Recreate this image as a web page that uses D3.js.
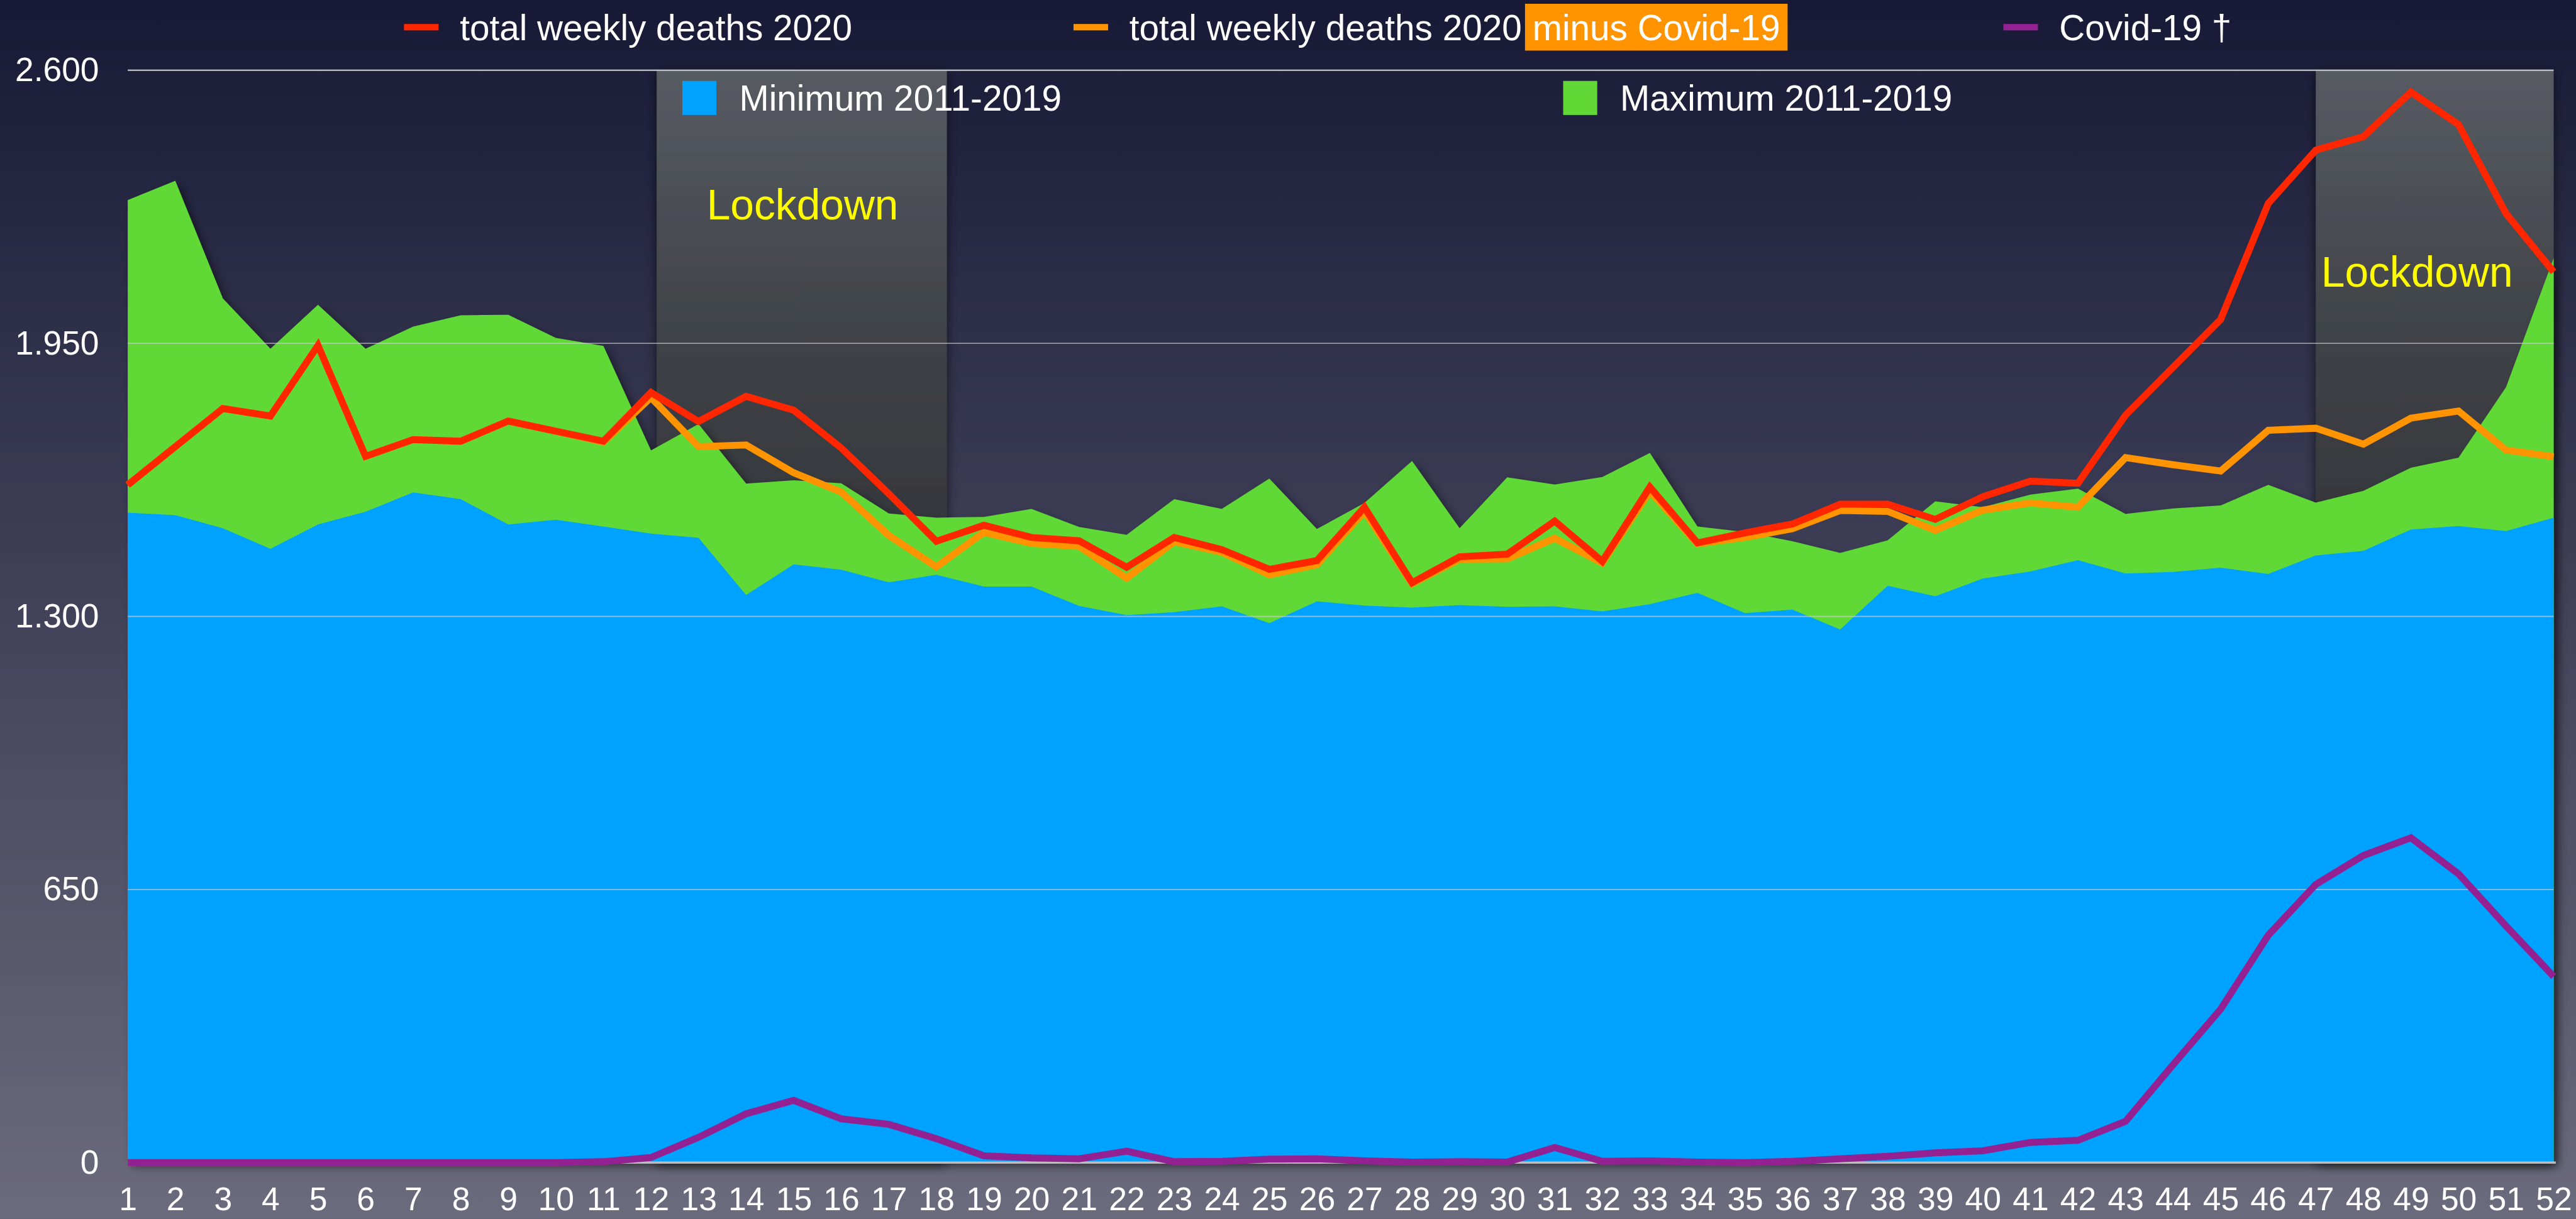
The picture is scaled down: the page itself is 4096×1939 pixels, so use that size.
<!DOCTYPE html>
<html>
<head>
<meta charset="utf-8">
<script src="https://cdn.jsdelivr.net/npm/d3@7"></script>
<style>
  html, body { margin: 0; padding: 0; background: #1a1b3a; overflow: hidden; }
  svg { display: block; }
  text { font-family: "Liberation Sans", Arial, Helvetica, sans-serif; }
</style>
</head>
<body>
<svg id="chart"></svg>
<script>
// weekly deaths
var weeks = [1,2,3,4,5,6,7,8,9,10,11,12,13,14,15,16,17,18,19,20,21,22,23,24,25,26,
             27,28,29,30,31,32,33,34,35,36,37,38,39,40,41,42,43,44,45,46,47,48,49,50,51,52];
var total2020 = [1613,1704,1795,1777,1945,1681,1721,1717,1765,1741,1717,1833,1764,1824,1791,1701,
                 1592,1479,1517,1488,1480,1417,1488,1459,1412,1433,1560,1380,1442,1448,1527,1431,
                 1608,1475,1499,1520,1567,1567,1531,1585,1622,1617,1779,1893,2007,2283,2410,2442,
                 2548,2471,2259,2120];
var minusCovid = [1613,1704,1795,1777,1945,1681,1721,1717,1765,1741,1715,1821,1704,1708,1642,1596,
                  1493,1418,1500,1474,1467,1391,1478,1453,1399,1423,1550,1378,1436,1437,1486,1427,
                  1598,1473,1488,1509,1552,1550,1505,1553,1570,1560,1678,1661,1646,1743,1748,1710,
                  1772,1789,1696,1680];
var covid = [0,0,0,0,0,0,0,0,0,0,2,12,60,116,148,104,91,57,16,11,9,27,2,3,8,9,4,1,2,1,36,3,
             4,1,0,3,9,15,23,28,48,53,98,233,365,541,662,731,773,687,563,443];
var min2011 = [1547,1541,1510,1461,1519,1549,1595,1579,1519,1530,1514,1497,1487,1351,1424,1411,
               1381,1399,1371,1371,1325,1303,1310,1324,1284,1336,1326,1321,1327,1323,1324,1312,
               1329,1356,1308,1316,1269,1373,1348,1390,1407,1434,1402,1406,1416,1401,1445,1456,
               1507,1515,1503,1535];
var max2011 = [2291,2337,2057,1937,2042,1937,1990,2017,2018,1963,1944,1695,1758,1616,1624,1617,
               1545,1535,1537,1556,1513,1494,1579,1556,1628,1508,1570,1670,1510,1631,1614,1632,
               1689,1514,1501,1479,1451,1481,1574,1560,1590,1604,1544,1557,1564,1613,1571,1599,
               1654,1678,1846,2153];
var yTicks = [0, 650, 1300, 1950, 2600];
var lockdowns = [[12.12, 18.22], [47, 52]];
var lockdownText = "Lockdown";

var W = 4840, H = 2291;
var x = d3.scaleLinear().domain([1, 52]).range([240, 4798]);
var y = d3.scaleLinear().domain([0, 2600]).range([2185, 132]);
var de = d3.formatLocale({decimal: ",", thousands: ".", grouping: [3], currency: ["", "€"]});

var svg = d3.select('#chart')
    .attr('width', 4096)
    .attr('height', 1939)
    .attr('viewBox', '0 0 ' + W + ' ' + H);
var defs = svg.append('defs');

var bg = defs.append('linearGradient').attr('id', 'bg')
    .attr('x1', 0).attr('y1', 0).attr('x2', 0).attr('y2', 1);
bg.append('stop').attr('offset', '0%').attr('stop-color', '#181936');
bg.append('stop').attr('offset', '100%').attr('stop-color', '#6b6b7d');

var lg = defs.append('linearGradient').attr('id', 'lock')
    .attr('x1', 0).attr('y1', 0).attr('x2', 0).attr('y2', 1);
lg.append('stop').attr('offset', '0%').attr('stop-color', '#575b62');
lg.append('stop').attr('offset', '25%').attr('stop-color', '#3f4247');
lg.append('stop').attr('offset', '40%').attr('stop-color', '#36383d');
lg.append('stop').attr('offset', '100%').attr('stop-color', '#2b2c30');

var sh = defs.append('filter').attr('id', 'shadow')
    .attr('x', '-5%').attr('y', '-5%').attr('width', '110%').attr('height', '110%');
sh.append('feDropShadow').attr('dx', 8).attr('dy', 8).attr('stdDeviation', 8)
    .attr('flood-color', '#000').attr('flood-opacity', 0.45);
var sh2 = defs.append('filter').attr('id', 'boxshadow')
    .attr('x', '-20%').attr('y', '-5%').attr('width', '140%').attr('height', '110%');
sh2.append('feDropShadow').attr('dx', 0).attr('dy', 4).attr('stdDeviation', 10)
    .attr('flood-color', '#000').attr('flood-opacity', 0.6);

svg.append('rect').attr('width', W).attr('height', H).attr('fill', 'url(#bg)');

// lockdown periods
svg.selectAll('.lockdown')
    .data(lockdowns)
    .enter().append('rect')
    .attr('class', 'lockdown')
    .attr('x', function(d) { return x(d[0]); })
    .attr('y', y(2600))
    .attr('width', function(d) { return x(d[1]) - x(d[0]); })
    .attr('height', y(0) - y(2600))
    .attr('fill', 'url(#lock)')
    .attr('filter', 'url(#boxshadow)');

// min / max areas
var areas = svg.append('g').attr('filter', 'url(#shadow)');
var area = function(vals) {
    return d3.area()
        .x(function(d, i) { return x(weeks[i]); })
        .y0(y(0))
        .y1(function(d) { return y(d); })(vals);
};
areas.append('path').attr('d', area(max2011)).attr('fill', '#61d836');
areas.append('path').attr('d', area(min2011)).attr('fill', '#00a2ff');

// grid lines
svg.selectAll('.grid-line')
    .data(yTicks.filter(function(d) { return d > 0; }))
    .enter().append('line')
    .attr('class', 'grid-line')
    .attr('x1', x(1)).attr('x2', x(52))
    .attr('y1', function(d) { return y(d); })
    .attr('y2', function(d) { return y(d); })
    .attr('stroke', '#cfcfd4')
    .attr('stroke-opacity', function(d) { return d === 2600 ? 0.85 : 0.65; })
    .attr('stroke-width', function(d) { return d === 2600 ? 3 : 2.2; });
svg.append('line')
    .attr('x1', x(1)).attr('x2', x(52) + 4)
    .attr('y1', y(0)).attr('y2', y(0))
    .attr('stroke', '#bdbdc2').attr('stroke-width', 4);

// axes
var yAxis = svg.append('g')
    .attr('transform', 'translate(' + x(1) + ',0)')
    .call(d3.axisLeft(y).tickValues(yTicks).tickSize(0).tickPadding(54).tickFormat(de.format(',d')));
var xAxis = svg.append('g')
    .attr('transform', 'translate(0,' + y(0) + ')')
    .call(d3.axisBottom(x).tickValues(weeks).tickSize(0).tickPadding(46).tickFormat(d3.format('d')));
[yAxis, xAxis].forEach(function(g) {
    g.select('.domain').remove();
    g.selectAll('text')
        .attr('fill', '#fff')
        .style('font-family', '"Liberation Sans", Arial, sans-serif')
        .style('font-size', g === xAxis ? '61px' : '63px');
});

// lockdown labels
svg.append('text').attr('x', x(lockdowns[0][0]) + 94).attr('y', 412)
    .attr('fill', '#fffb00').style('font-size', '80px').text(lockdownText);
svg.append('text').attr('x', x(lockdowns[1][0]) + 10).attr('y', 539)
    .attr('fill', '#fffb00').style('font-size', '80px').text(lockdownText);

// area legend
var areaLegend = [
    {label: 'Minimum 2011-2019', color: '#00a2ff', x: 1282},
    {label: 'Maximum 2011-2019', color: '#61d836', x: 2937}
];
areaLegend.forEach(function(d) {
    svg.append('rect').attr('x', d.x).attr('y', 152).attr('width', 64).attr('height', 64)
        .attr('fill', d.color);
    svg.append('text').attr('x', d.x + 107).attr('y', 208)
        .attr('fill', '#fff').style('font-size', '67px').text(d.label);
});

// lines
var line = d3.line()
    .x(function(d, i) { return x(weeks[i]); })
    .y(function(d) { return y(d); });
[[minusCovid, '#ff9300'], [total2020, '#ff2600'], [covid, '#942192']].forEach(function(s) {
    svg.append('path')
        .attr('d', line(s[0]))
        .attr('fill', 'none')
        .attr('stroke', s[1])
        .attr('stroke-width', 13);
});

// line legend
var lineLegend = [
    {label: 'total weekly deaths 2020', color: '#ff2600', x: 759},
    {label: 'total weekly deaths 2020', color: '#ff9300', x: 2017, extra: 'minus Covid-19'},
    {label: 'Covid-19 \u2020', color: '#942192', x: 3764}
];
lineLegend.forEach(function(d) {
    svg.append('rect').attr('x', d.x).attr('y', 45).attr('width', 65).attr('height', 12)
        .attr('fill', d.color);
    var t = svg.append('text').attr('x', d.x + 105).attr('y', 76)
        .attr('fill', '#fff').style('font-size', '67px').text(d.label);
    if (d.extra) {
        var end = d.x + 105 + t.node().getComputedTextLength();
        var box = svg.append('rect').attr('x', end + 6).attr('y', 7).attr('height', 88)
            .attr('fill', d.color);
        var t2 = svg.append('text').attr('x', end + 20).attr('y', 76)
            .attr('fill', '#fff').style('font-size', '67px').text(d.extra);
        box.attr('width', t2.node().getComputedTextLength() + 28);
    }
});
</script>
</body>
</html>
